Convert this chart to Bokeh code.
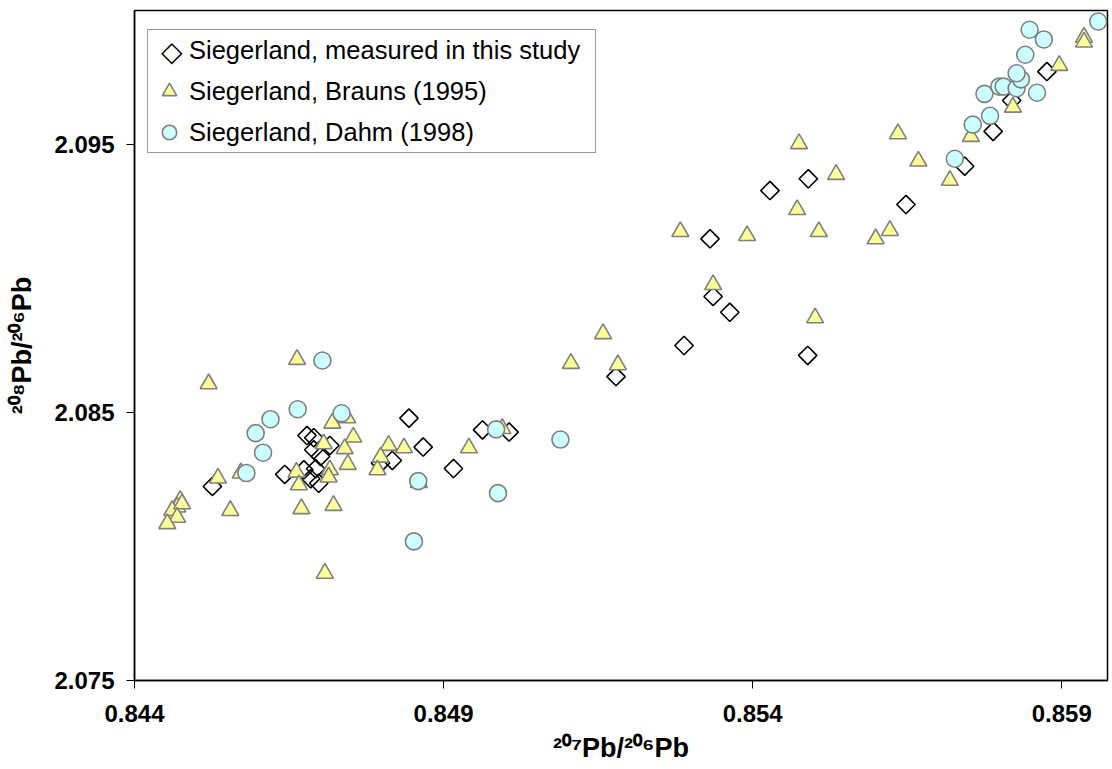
import math
from bokeh.plotting import figure
from bokeh.models import FixedTicker, Legend, LegendItem, Range1d
from bokeh.embed import file_html
from bokeh.resources import INLINE

# ---- data ----
x_ticks = [0.844, 0.849, 0.854, 0.859]
y_ticks = [2.075, 2.085, 2.095]

study_x = [0.84526, 0.84643, 0.84679, 0.84690, 0.84716, 0.84690, 0.84701, 0.84674,
           0.84693, 0.84685, 0.84698, 0.84798, 0.84817, 0.84844, 0.84867, 0.84916,
           0.84963, 0.85006, 0.85179, 0.85289, 0.85336, 0.85363, 0.85331, 0.85489,
           0.85428, 0.85490, 0.85648, 0.85743, 0.85789, 0.85819, 0.85876]
study_y = [2.08224, 2.08269, 2.08414, 2.08406, 2.08377, 2.08361, 2.08336, 2.08286,
           2.08290, 2.08253, 2.08236, 2.08311, 2.08321, 2.08479, 2.08371, 2.08291,
           2.08435, 2.08427, 2.08634, 2.08750, 2.08933, 2.08874, 2.09148, 2.08713,
           2.09328, 2.09372, 2.09276, 2.09419, 2.09549, 2.09664, 2.09772]

brauns_x = [0.84663, 0.84520, 0.84572, 0.84744, 0.84720, 0.84754, 0.84706, 0.84740,
            0.84745, 0.84716, 0.84714, 0.84662, 0.84666, 0.84811, 0.84836, 0.84798,
            0.84793, 0.84941, 0.84535, 0.84474, 0.84469, 0.84461, 0.84477, 0.84469,
            0.84453, 0.84555, 0.84670, 0.84722, 0.84708, 0.84860, 0.84995, 0.85106,
            0.85158, 0.85182, 0.85283, 0.85336, 0.85391, 0.85475, 0.85472, 0.85507,
            0.85501, 0.85535, 0.85599, 0.85622, 0.85635, 0.85668, 0.85719, 0.85753,
            0.85821, 0.85896, 0.85936, 0.85936]
brauns_y = [2.08698, 2.08607, 2.08274, 2.08480, 2.08460, 2.08408, 2.08383, 2.08365,
            2.08306, 2.08286, 2.08259, 2.08277, 2.08230, 2.08377, 2.08368, 2.08333,
            2.08286, 2.08368, 2.08255, 2.08172, 2.08147, 2.08134, 2.08159, 2.08109,
            2.08085, 2.08134, 2.08141, 2.08153, 2.07900, 2.08239, 2.08440, 2.08683,
            2.08794, 2.08678, 2.09175, 2.08977, 2.09160, 2.09503, 2.09257, 2.09175,
            2.08853, 2.09388, 2.09148, 2.09179, 2.09540, 2.09438, 2.09366, 2.09530,
            2.09639, 2.09795, 2.09900, 2.09882]

dahm_x = [0.84704, 0.84664, 0.84620, 0.84596, 0.84608, 0.84581, 0.84735, 0.84859,
          0.84852, 0.84985, 0.84988, 0.85089, 0.85727, 0.85756, 0.85784, 0.85775,
          0.85799, 0.85806, 0.85827, 0.85834, 0.85827, 0.85841, 0.85860, 0.85848,
          0.85871, 0.85959]
dahm_y = [2.08694, 2.08512, 2.08475, 2.08423, 2.08350, 2.08274, 2.08497, 2.08244,
          2.08019, 2.08437, 2.08199, 2.08399, 2.09447, 2.09574, 2.09607, 2.09689,
          2.09716, 2.09716, 2.09710, 2.09743, 2.09766, 2.09835, 2.09693, 2.09928,
          2.09892, 2.09959]

labels = ["Siegerland, measured in this study",
          "Siegerland, Brauns (1995)",
          "Siegerland, Dahm (1998)"]

FONT = "Liberation Sans"

p = figure(width=1112, height=769, output_backend="svg", toolbar_location=None,
           x_range=Range1d(0.844, 0.85974), y_range=Range1d(2.075, 2.100),
           min_border_left=134, min_border_right=5, min_border_top=10,
           min_border_bottom=89)

p.background_fill_color = "white"
p.border_fill_color = "white"
p.outline_line_color = "black"
p.outline_line_width = 1.5
p.grid.visible = False

for ax in (p.xaxis[0], p.yaxis[0]):
    ax.axis_line_color = "black"
    ax.axis_line_width = 1.5
    ax.major_tick_line_color = "black"
    ax.major_tick_line_width = 1
    ax.major_tick_in = 0
    ax.minor_tick_line_color = None
    ax.major_label_text_font = FONT
    ax.major_label_text_font_style = "bold"
    ax.major_label_text_font_size = "24px"
    ax.major_label_text_color = "black"
    ax.axis_label_text_font = FONT
    ax.axis_label_text_font_style = "bold"
    ax.axis_label_text_font_size = "27px"
    ax.axis_label_text_color = "black"

p.xaxis.ticker = FixedTicker(ticks=x_ticks)
p.yaxis.ticker = FixedTicker(ticks=y_ticks)
p.xaxis.major_tick_out = 8
p.yaxis.major_tick_out = 8
p.xaxis.major_label_standoff = 16
p.yaxis.major_label_standoff = 12
p.xaxis.axis_label = "²⁰⁷Pb/²⁰⁶Pb"
p.yaxis.axis_label = "²⁰⁸Pb/²⁰⁶Pb"
p.xaxis.axis_label_standoff = 8
p.yaxis.axis_label_standoff = 14

r1 = p.scatter(study_x, study_y, marker="square", angle=math.pi / 4, size=13,
               fill_color=None, line_color="black", line_width=1.6)
r2 = p.scatter(brauns_x, brauns_y, marker="triangle", size=17,
               fill_color="#FFFF99", line_color="#808080", line_width=1.6)
r3 = p.scatter(dahm_x, dahm_y, marker="circle", size=17,
               fill_color="#CCFFFF", line_color="#808080", line_width=1.6)

# the legend cannot rotate a square marker, so the first entry gets an
# invisible key and an open-diamond character laid over it
key1 = p.scatter(x=[], y=[], marker="square", fill_alpha=0, line_alpha=0)

legend = Legend(items=[LegendItem(label=labels[0], renderers=[key1]),
                       LegendItem(label=labels[1], renderers=[r2]),
                       LegendItem(label=labels[2], renderers=[r3])],
                location=(13, 527), margin=0, padding=2, spacing=5,
                glyph_width=38, glyph_height=36, label_height=36,
                label_standoff=1, label_width=404,
                label_text_font=FONT, label_text_font_size="25.5px",
                label_text_color="black",
                border_line_color="#333333", border_line_width=1,
                background_fill_color="white", background_fill_alpha=1.0)
p.add_layout(legend)

diamond_key = Legend(items=[LegendItem(label="◇", renderers=[key1])],
                     location=(26, 611), margin=0, padding=0, spacing=0,
                     glyph_width=1, glyph_height=36, label_height=36,
                     label_standoff=0,
                     label_text_font="DejaVu Sans", label_text_font_size="28px",
                     label_text_color="black",
                     border_line_alpha=0, background_fill_alpha=0)
p.add_layout(diamond_key)

open("out.html", "w").write(file_html(p, INLINE))
